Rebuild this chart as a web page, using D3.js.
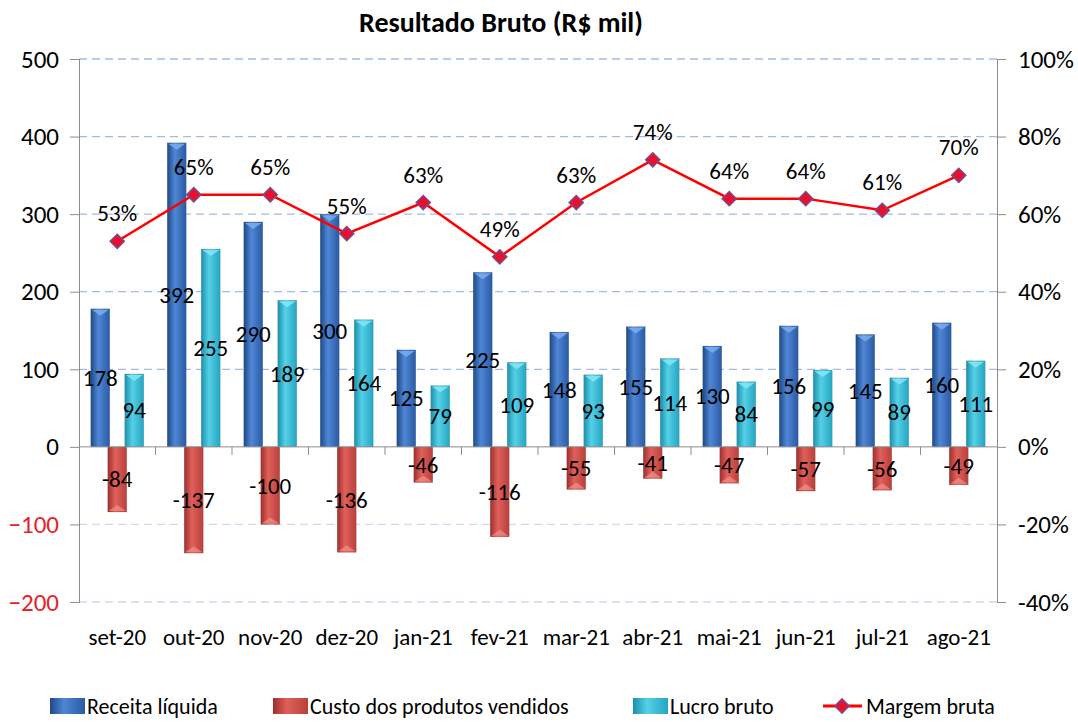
<!DOCTYPE html>
<html>
<head>
<meta charset="utf-8">
<script src="https://cdn.jsdelivr.net/npm/d3@7"></script>
<style>
  body { margin: 0; background: #fff; }
  svg text { font-family: Carlito, "Liberation Sans Narrow", "Noto Sans", sans-serif; }
</style>
</head>
<body>
<div id="wrapper"></div>
<script>
const months = ["set-20", "out-20", "nov-20", "dez-20", "jan-21", "fev-21", "mar-21", "abr-21", "mai-21", "jun-21", "jul-21", "ago-21"]
const receita = [178, 392, 290, 300, 125, 225, 148, 155, 130, 156, 145, 160]
const custo = [-84, -137, -100, -136, -46, -116, -55, -41, -47, -57, -56, -49]
const lucro = [94, 255, 189, 164, 79, 109, 93, 114, 84, 99, 89, 111]
const margem = [53, 65, 65, 55, 63, 49, 63, 74, 64, 64, 61, 70]
const leftTicks = [500, 400, 300, 200, 100, 0, -100, -200]
const rightTicks = [100, 80, 60, 40, 20, 0, -20, -40]

let dimensions = {
    width: 1078,
    height: 722,
    margin: { top: 59, right: 81, bottom: 120, left: 79 },
}
dimensions.boundedWidth = dimensions.width - dimensions.margin.left - dimensions.margin.right
dimensions.boundedHeight = dimensions.height - dimensions.margin.top - dimensions.margin.bottom

const svg = d3.select("#wrapper")
    .append("svg")
    .attr("width", dimensions.width)
    .attr("height", dimensions.height)

// gradients for the "cylinder" look
const defs = svg.append("defs")
const palette = {
    blue: ["#1d4a86", "#4f86d6", "#2a5ba3"],
    red: ["#9e2f2c", "#e0605b", "#b8403b"],
    cyan: ["#1a90ad", "#55d0e6", "#25a5c3"],
}
Object.entries(palette).forEach(([name, c]) => {
    const g = defs.append("linearGradient").attr("id", "g-" + name)
        .attr("x1", 0).attr("x2", 1).attr("y1", 0).attr("y2", 0)
    g.append("stop").attr("offset", "0%").attr("stop-color", c[0])
    g.append("stop").attr("offset", "40%").attr("stop-color", c[1])
    g.append("stop").attr("offset", "100%").attr("stop-color", c[2])
})

const bounds = svg.append("g")
    .attr("transform", `translate(${dimensions.margin.left},${dimensions.margin.top})`)

const x = d3.scaleBand().domain(months).range([0, dimensions.boundedWidth])
const y = d3.scaleLinear().domain([-200, 500]).range([dimensions.boundedHeight, 0])
const y2 = d3.scaleLinear().domain([-40, 100]).range([dimensions.boundedHeight, 0])

// grid
bounds.append("g").selectAll("line")
    .data(leftTicks.filter(d => d !== 0))
    .join("line")
    .attr("x1", 0).attr("x2", dimensions.boundedWidth)
    .attr("y1", d => y(d)).attr("y2", d => y(d))
    .attr("stroke", d => d > 0 ? "#a3bbe6" : "#cdd9f0")
    .attr("stroke-width", 1.3)
    .attr("stroke-dasharray", "8,5")

// left axis
const leftAxis = bounds.append("g")
    .call(d3.axisLeft(y).tickValues(leftTicks).tickSize(9).tickPadding(11))
leftAxis.select(".domain").attr("stroke", "#8c8c8c")
leftAxis.selectAll(".tick line").attr("stroke", "#8c8c8c")
leftAxis.selectAll(".tick text")
    .attr("font-size", 25)
    .attr("fill", d => d < 0 ? "#e8212a" : "#000")

// right axis
const rightAxis = bounds.append("g")
    .attr("transform", `translate(${dimensions.boundedWidth},0)`)
    .call(d3.axisRight(y2).tickValues(rightTicks).tickSize(9).tickPadding(12).tickFormat(d => d + "%"))
rightAxis.select(".domain").attr("stroke", "#8c8c8c")
rightAxis.selectAll(".tick line").attr("stroke", "#8c8c8c")
rightAxis.selectAll(".tick text").attr("font-size", 25).attr("fill", "#000")

const barW = 19
const offset = 17
const series = [
    { values: receita, dx: -offset, fill: "url(#g-blue)", cap: "#7fb0f0" },
    { values: custo, dx: 0, fill: "url(#g-red)", cap: "#f08a85" },
    { values: lucro, dx: offset, fill: "url(#g-cyan)", cap: "#8ae8f5" },
]
const cx = m => x(m) + x.bandwidth() / 2

series.forEach(s => {
    const g = bounds.append("g")
    g.selectAll("rect")
        .data(s.values)
        .join("rect")
        .attr("x", (d, i) => cx(months[i]) + s.dx - barW / 2)
        .attr("width", barW)
        .attr("y", d => y(Math.max(0, d)))
        .attr("height", d => Math.abs(y(d) - y(0)))
        .attr("fill", s.fill)
        .attr("stroke", "rgba(0,0,0,0.15)")
        .attr("stroke-width", 0.6)
    // light cap at the bar end
    g.selectAll("path.cap")
        .data(s.values)
        .join("path")
        .attr("class", "cap")
        .attr("d", (d, i) => {
            const x0 = cx(months[i]) + s.dx - barW / 2 + 1
            const x1 = x0 + barW - 2
            const ye = d >= 0 ? y(d) + 1 : y(d) - 1
            const dir = d >= 0 ? 1 : -1
            return `M${x0},${ye} L${x1},${ye} L${(x0 + x1) / 2},${ye + dir * 6} Z`
        })
        .attr("fill", s.cap)
        .attr("opacity", 0.8)
})

// zero axis
bounds.append("line")
    .attr("x1", 0).attr("x2", dimensions.boundedWidth)
    .attr("y1", y(0)).attr("y2", y(0))
    .attr("stroke", "#8c8c8c")
bounds.append("g").selectAll("line")
    .data(months.slice(1))
    .join("line")
    .attr("x1", d => x(d)).attr("x2", d => x(d))
    .attr("y1", y(0)).attr("y2", y(0) + 8)
    .attr("stroke", "#8c8c8c")

// bar value labels
series.forEach(s => {
    bounds.append("g").selectAll("text")
        .data(s.values)
        .join("text")
        .attr("x", (d, i) => cx(months[i]) + s.dx)
        .attr("y", d => (y(d) + y(0)) / 2)
        .attr("dy", "0.35em")
        .attr("text-anchor", "middle")
        .attr("font-size", 23)
        .text(d => d)
})

// margin line
const line = d3.line()
    .x((d, i) => cx(months[i]))
    .y(d => y2(d))
bounds.append("path")
    .datum(margem)
    .attr("d", line)
    .attr("fill", "none")
    .attr("stroke", "#ff0000")
    .attr("stroke-width", 2.5)
bounds.append("g").selectAll("path")
    .data(margem)
    .join("path")
    .attr("d", d3.symbol().type(d3.symbolSquare).size(100))
    .attr("transform", (d, i) => `translate(${cx(months[i])},${y2(d)}) rotate(45)`)
    .attr("fill", "#e8102a")
    .attr("stroke", "#7a4a8c")
    .attr("stroke-width", 1.5)
bounds.append("g").selectAll("text")
    .data(margem)
    .join("text")
    .attr("x", (d, i) => cx(months[i]))
    .attr("y", d => y2(d) - 28)
    .attr("dy", "0.35em")
    .attr("text-anchor", "middle")
    .attr("font-size", 23)
    .text(d => d + "%")

// x labels
bounds.append("g").selectAll("text")
    .data(months)
    .join("text")
    .attr("x", d => cx(d))
    .attr("y", 586)
    .attr("text-anchor", "middle")
    .attr("font-size", 23)
    .text(d => d)

// title
svg.append("text")
    .attr("x", 501).attr("y", 32)
    .attr("text-anchor", "middle")
    .attr("font-size", 28)
    .attr("font-weight", "bold")
    .text("Resultado Bruto (R$ mil)")

// legend
const legend = svg.append("g").attr("transform", "translate(0,706)")
const legendItems = [
    { label: "Receita líquida", x: 50, fill: "url(#g-blue)" },
    { label: "Custo dos produtos vendidos", x: 273, fill: "url(#g-red)" },
    { label: "Lucro bruto", x: 633, fill: "url(#g-cyan)" },
]
legendItems.forEach(l => {
    legend.append("rect")
        .attr("x", l.x).attr("y", -8).attr("width", 35).attr("height", 16)
        .attr("fill", l.fill)
    legend.append("text")
        .attr("x", l.x + 37).attr("dy", "0.35em")
        .attr("font-size", 22)
        .text(l.label)
})
legend.append("line")
    .attr("x1", 823).attr("x2", 862)
    .attr("stroke", "#ff0000").attr("stroke-width", 3)
legend.append("path")
    .attr("d", d3.symbol().type(d3.symbolSquare).size(100))
    .attr("transform", "translate(842,0) rotate(45)")
    .attr("fill", "#e8102a")
    .attr("stroke", "#7a4a8c")
    .attr("stroke-width", 1.5)
legend.append("text")
    .attr("x", 866).attr("dy", "0.35em")
    .attr("font-size", 22)
    .text("Margem bruta")
</script>
</body>
</html>
